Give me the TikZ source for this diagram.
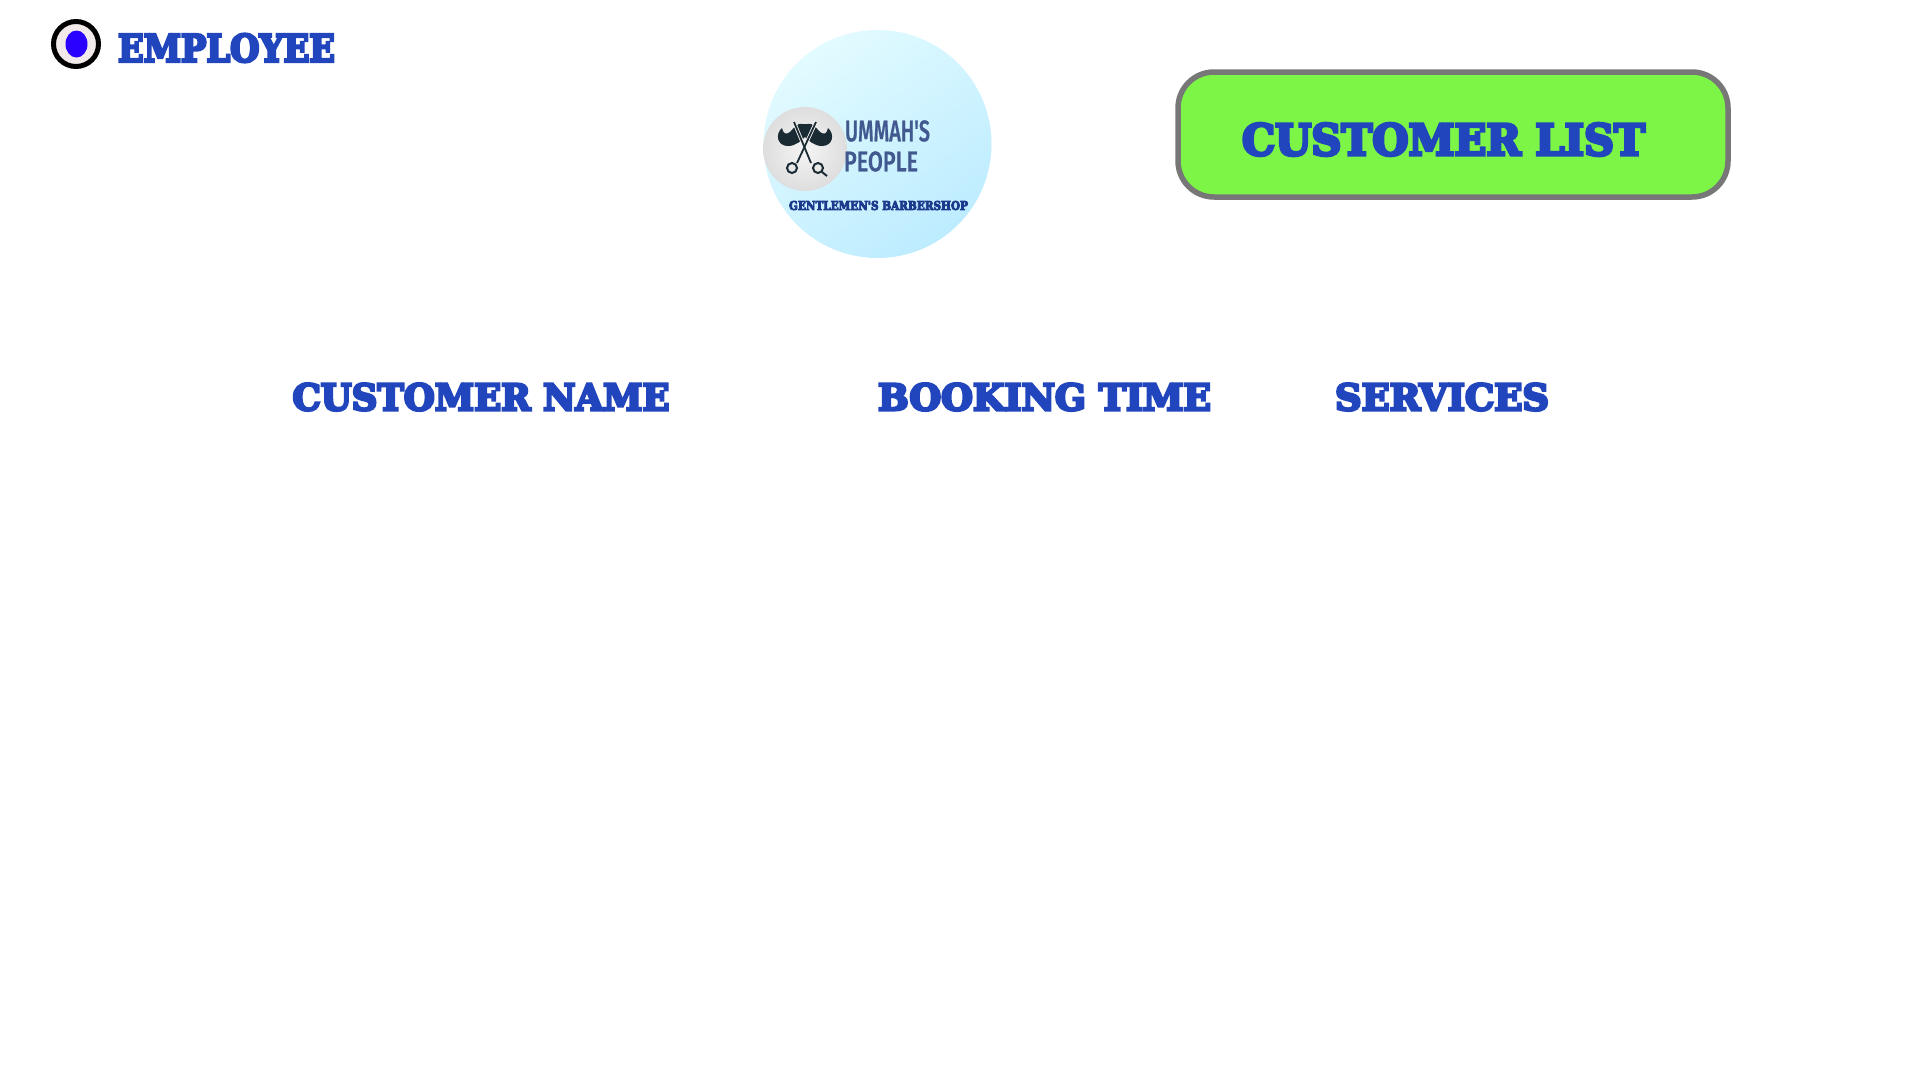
\documentclass[tikz,border=0pt]{standalone}
\usetikzlibrary{shapes.geometric}
\usepackage{fontspec}
\usepackage{graphicx}
\setmainfont{Liberation Serif}
\newfontfamily\heavyfont[FakeBold=7]{DejaVu Serif Bold}
\newfontfamily\logofont[FakeBold=1]{Fira Sans Medium}
\definecolor{inkblue}{HTML}{2045BC}
\definecolor{navy}{HTML}{1B3A8C}
\definecolor{logoblue}{HTML}{41598F}
\definecolor{btnfill}{HTML}{7CF547}
\definecolor{btnedge}{HTML}{777777}
\definecolor{radiofill}{HTML}{F1E9EA}
\definecolor{radiodot}{HTML}{2A00FF}
\definecolor{skyA}{HTML}{E2FBFF}
\definecolor{skyB}{HTML}{BDECFF}
\definecolor{darkglyph}{HTML}{1B2B33}
\newcommand{\fit}[3]{\resizebox{#1pt}{#2pt}{#3}}
\tikzset{
  heavy/.style={inner sep=0pt,outer sep=0pt,text=inkblue,font=\heavyfont},
  logotext/.style={inner sep=0pt,outer sep=0pt,text=logoblue,font=\logofont}
}
\begin{document}
\begin{tikzpicture}[x=1pt,y=-1pt]
\useasboundingbox (0,0) rectangle (1920,1080);
\fill[white] (0,0) rectangle (1920,1080);
% radio
\node[circle,draw=black,fill=radiofill,line width=5pt,minimum size=45pt,inner sep=0pt] (radio) at (76,44) {};
\node[ellipse,fill=radiodot,minimum width=22pt,minimum height=27pt,inner sep=0pt] (dot) at (76.5,44) {};
\node[heavy] (employee) at (226.5,48) {\fit{217}{28}{EMPLOYEE}};
% logo
\shade[top color=skyA,bottom color=skyB,shading angle=35] (877.5,144) circle[radius=114];
\shade[inner color=white!96!black,outer color=white!87!black] (805,149) circle[radius=42];
\node[logotext] (ummah) at (887.5,131) {\fit{85}{21}{UMMAH'S}};
\node[logotext] (people) at (881,161.5) {\fit{74}{20}{PEOPLE}};
\node[inner sep=0pt,text=navy,font=\heavyfont] (gent) at (878.5,205.5) {\fit{179}{9}{GENTLEMEN'S BARBERSHOP}};
% moustache
\fill[darkglyph] (805,125) .. controls (798,121) and (794,128) .. (790,132)
  .. controls (786,135) and (783,134) .. (782,128)
  .. controls (775,134) and (777,146) .. (788,146)
  .. controls (796,146) and (802,140) .. (805,137)
  .. controls (808,140) and (814,146) .. (822,146)
  .. controls (833,146) and (835,134) .. (828,128)
  .. controls (827,134) and (824,135) .. (820,132)
  .. controls (816,128) and (812,121) .. (805,125) -- cycle;
\fill[darkglyph] (798,124) -- (812,124) -- (805,137) -- cycle;
% scissors
\draw[white!94!black,line width=3.6pt] (794,122) -- (811,163);
\draw[white!94!black,line width=3.6pt] (816,122) -- (797,163);
\draw[darkglyph,line width=1.8pt] (794,122) -- (811,163);
\draw[darkglyph,line width=1.8pt] (816,122) -- (797,163);
\draw[darkglyph,line width=2pt] (792,168) circle[radius=5];
\draw[darkglyph,line width=2pt] (818,168) circle[radius=5];
\draw[darkglyph,line width=2pt] (822,172) -- (827,176);
% button
\node[rounded corners=36pt,draw=btnedge,fill=btnfill,line width=5.5pt,minimum width=550pt,minimum height=125pt,inner sep=0pt] (btn) at (1453,134.5) {};
\node[heavy] (list) at (1443.5,139.5) {\fit{403}{32}{CUSTOMER LIST}};
% headers
\node[heavy] (hname) at (481,397) {\fit{377}{27}{CUSTOMER NAME}};
\node[heavy] (htime) at (1044.5,397) {\fit{333}{27}{BOOKING TIME}};
\node[heavy] (hserv) at (1442,397) {\fit{214}{27}{SERVICES}};
\end{tikzpicture}
\end{document}
